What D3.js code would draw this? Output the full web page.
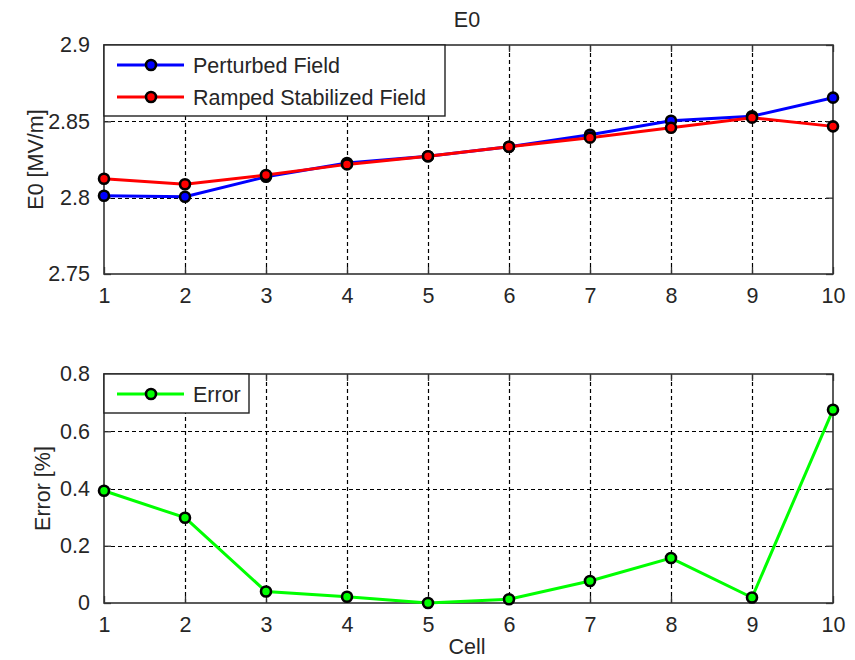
<!DOCTYPE html>
<html>
<head>
<meta charset="utf-8">
<script src="https://cdn.jsdelivr.net/npm/d3@7"></script>
<style>
  body { margin: 0; background: #fff; }
  text { font-family: "Liberation Sans", Arial, sans-serif; fill: #262626; }
</style>
</head>
<body>
<script>
var cells = [1, 2, 3, 4, 5, 6, 7, 8, 9, 10];
var perturbed = [2.8013, 2.8006, 2.8137, 2.8227, 2.8271, 2.8334, 2.8412, 2.8504, 2.8533, 2.8655];
var ramped = [2.8124, 2.8088, 2.8148, 2.8218, 2.8271, 2.8334, 2.8393, 2.8458, 2.8524, 2.8467];
var errorPct = [0.392, 0.298, 0.040, 0.022, 0.0, 0.013, 0.077, 0.157, 0.019, 0.675];
var topTicks = [2.75, 2.8, 2.85, 2.9];
var bottomTicks = [0, 0.2, 0.4, 0.6, 0.8];

var W = 855, H = 660, fs = 21.5;
var svg = d3.select("body").append("svg").attr("width", W).attr("height", H);

var x = d3.scaleLinear().domain([1, 10]).range([104, 833]);

function panel(y, ticks, series, legendW, ylabel) {
  var x0 = x.range()[0], x1 = x.range()[1];
  var yb = y.range()[0], yt = y.range()[1];
  var g = svg.append("g");

  // grid
  g.selectAll(".gx").data(cells.slice(1, -1)).enter().append("line")
    .attr("x1", d => Math.round(x(d)) + 0.5).attr("x2", d => Math.round(x(d)) + 0.5).attr("y1", yb).attr("y2", yt)
    .attr("stroke", "#000").attr("stroke-width", 1.2).attr("stroke-dasharray", "4,3");
  g.selectAll(".gy").data(ticks.slice(1, -1)).enter().append("line")
    .attr("x1", x0).attr("x2", x1).attr("y1", d => Math.round(y(d)) + 0.5).attr("y2", d => Math.round(y(d)) + 0.5)
    .attr("stroke", "#000").attr("stroke-width", 1.2).attr("stroke-dasharray", "4,3");

  // axes (ticks inside, on all four sides)
  var tl = 7;
  g.append("g").attr("transform", "translate(0," + yb + ")")
    .call(d3.axisBottom(x).tickValues(cells).tickSize(-tl).tickPadding(tl + 7).tickFormat(d3.format("d")));
  g.append("g").attr("transform", "translate(0," + yt + ")")
    .call(d3.axisTop(x).tickValues(cells).tickSize(-tl).tickFormat(""));
  g.append("g").attr("transform", "translate(" + x0 + ",0)")
    .call(d3.axisLeft(y).tickValues(ticks).tickSize(-tl).tickPadding(tl + 7).tickFormat(d => String(d)));
  g.append("g").attr("transform", "translate(" + x1 + ",0)")
    .call(d3.axisRight(y).tickValues(ticks).tickSize(-tl).tickFormat(""));
  g.selectAll(".domain").remove();
  g.selectAll(".tick line").attr("stroke", "#333").attr("stroke-width", 1.3);
  g.selectAll(".tick text").style("font-size", fs + "px").style("font-family", '"Liberation Sans", Arial, sans-serif').attr("fill", "#262626");
  g.append("rect").attr("x", x0).attr("y", yt).attr("width", x1 - x0).attr("height", yb - yt)
    .attr("fill", "none").attr("stroke", "#333").attr("stroke-width", 1.6);

  // series
  series.forEach(function(s) {
    var line = d3.line().x((d, i) => x(cells[i])).y(d => y(d));
    g.append("path").attr("d", line(s.values)).attr("fill", "none")
      .attr("stroke", s.color).attr("stroke-width", 3);
    g.selectAll(null).data(s.values).enter().append("circle")
      .attr("cx", (d, i) => x(cells[i])).attr("cy", d => y(d)).attr("r", 5)
      .attr("fill", s.color).attr("stroke", "#000").attr("stroke-width", 2.6);
  });

  // legend
  var lh = 32 * series.length + 7;
  g.append("rect").attr("x", x0).attr("y", yt).attr("width", legendW).attr("height", lh)
    .attr("fill", "#fff").attr("stroke", "#222").attr("stroke-width", 1.4);
  series.forEach(function(s, i) {
    var ly = yt + 20 + i * 32;
    g.append("line").attr("x1", x0 + 13).attr("x2", x0 + 80).attr("y1", ly).attr("y2", ly)
      .attr("stroke", s.color).attr("stroke-width", 3);
    g.append("circle").attr("cx", x0 + 47).attr("cy", ly).attr("r", 5)
      .attr("fill", s.color).attr("stroke", "#000").attr("stroke-width", 2.6);
    g.append("text").attr("x", x0 + 89).attr("y", ly + 8).style("font-size", fs + "px").text(s.name);
  });

  // y label
  g.append("text").attr("transform", "translate(" + (ylabel.x) + "," + ((yt + yb) / 2) + ") rotate(-90)")
    .attr("text-anchor", "middle").style("font-size", fs + "px").text(ylabel.text);
}

var yTop = d3.scaleLinear().domain([2.75, 2.9]).range([274, 45]);
var yBot = d3.scaleLinear().domain([0, 0.8]).range([603, 374]);

panel(yTop, topTicks, [
  { name: "Perturbed Field", values: perturbed, color: "#0000ff" },
  { name: "Ramped Stabilized Field", values: ramped, color: "#ff0000" }
], 341, { text: "E0 [MV/m]", x: 43 });

panel(yBot, bottomTicks, [
  { name: "Error", values: errorPct, color: "#00ff00" }
], 145, { text: "Error [%]", x: 50 });

svg.append("text").attr("x", 467).attr("y", 27).attr("text-anchor", "middle")
  .style("font-size", fs + "px").text("E0");
svg.append("text").attr("x", 467).attr("y", 654).attr("text-anchor", "middle")
  .style("font-size", fs + "px").text("Cell");
</script>
</body>
</html>
